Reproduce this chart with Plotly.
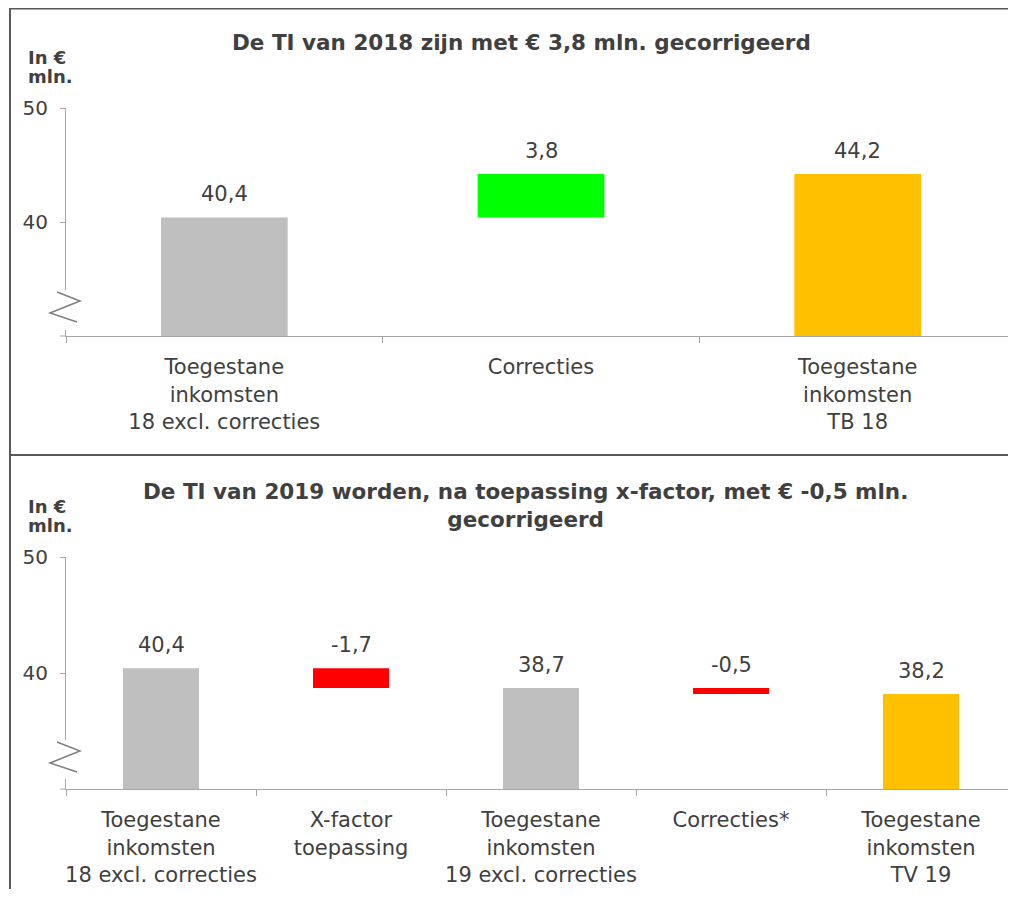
import plotly.graph_objects as go

# page is rendered with an 8px body margin; the figure is sized to fit the window
OFF = 8
W, H = 1016 - OFF, 897 - 2 * OFF

# ---------------- data ----------------
top_title = "De TI van 2018 zijn met € 3,8 mln. gecorrigeerd"
top_categories = ["Toegestane<br>inkomsten<br>18 excl. correcties",
                  "Correcties",
                  "Toegestane<br>inkomsten<br>TB 18"]
top_values = [40.4, 3.8, 44.2]
top_kinds = ["total", "delta", "total"]
top_colors = ["#bfbfbf", "#00ff00", "#ffc000"]

bottom_title = "De TI van 2019 worden, na toepassing x-factor, met € -0,5 mln.<br>gecorrigeerd"
bottom_categories = ["Toegestane<br>inkomsten<br>18 excl. correcties",
                     "X-factor<br>toepassing",
                     "Toegestane<br>inkomsten<br>19 excl. correcties",
                     "Correcties*",
                     "Toegestane<br>inkomsten<br>TV 19"]
bottom_values = [40.4, -1.7, 38.7, -0.5, 38.2]
bottom_kinds = ["total", "delta", "total", "delta", "total"]
bottom_colors = ["#bfbfbf", "#ff0000", "#bfbfbf", "#ff0000", "#ffc000"]

y_range = [30, 50]
y_ticks = [40, 50]
unit_label = ["In €", "mln."]

# ---------------- helpers ----------------
FONT = "Verdana, DejaVu Sans, sans-serif"
TXT = "#404040"
AXC = "#a6a6a6"


def px(x):
    return (x - OFF) / W


def py(y):
    return 1 - (y - OFF) / H


def waterfall(values, kinds):
    bases, heights, tops = [], [], []
    running = 0.0
    for v, k in zip(values, kinds):
        if k == "total":
            b = 0.0
            running = v
        else:
            b = running
            running = running + v
        bases.append(b)
        heights.append(v)
        tops.append(max(b, b + v))
    return bases, heights, tops


def fmt(v):
    return f"{v:.1f}".replace(".", ",")


fig = go.Figure()
annotations = []

panels = [
    (top_categories, top_values, top_kinds, top_colors, "x", "y"),
    (bottom_categories, bottom_values, bottom_kinds, bottom_colors, "x2", "y2"),
]
for cats, vals, kinds, cols, xa, ya in panels:
    bases, heights, tops = waterfall(vals, kinds)
    fig.add_trace(go.Bar(x=cats, y=heights, base=bases, marker=dict(color=cols, line=dict(width=0)),
                         width=0.4, xaxis=xa, yaxis=ya, showlegend=False, hoverinfo="skip"))
    for c, v, t in zip(cats, vals, tops):
        annotations.append(dict(x=c, y=t, xref=xa, yref=ya, text=fmt(v), showarrow=False,
                                yanchor="bottom", yshift=9, font=dict(family=FONT, size=21, color=TXT)))

axis_common = dict(showgrid=False, zeroline=False, showline=True, linecolor=AXC, linewidth=1,
                   ticks="outside", tickcolor=AXC, tickwidth=1, automargin=False)

xfont = dict(family=FONT, size=21, color=TXT)
yfont = dict(family=FONT, size=20, color=TXT)
fig.update_layout(
    width=W, height=H,
    margin=dict(l=0, r=0, t=0, b=0, pad=0),
    paper_bgcolor="white", plot_bgcolor="white",
    showlegend=False,
    xaxis=dict(domain=[px(66), 1.0], anchor="y", type="category", tickson="boundaries", ticklen=6,
               tickangle=0, tickfont=xfont, ticklabelstandoff=12, **axis_common),
    yaxis=dict(domain=[py(336), py(108)], anchor="x", range=y_range, tickvals=y_ticks, ticklen=5,
               tickfont=yfont, ticklabelstandoff=8, **axis_common),
    xaxis2=dict(domain=[px(66), 1.0], anchor="y2", type="category", tickson="boundaries", ticklen=6,
                tickangle=0, tickfont=xfont, ticklabelstandoff=12, **axis_common),
    yaxis2=dict(domain=[py(789), py(557)], anchor="x2", range=y_range, tickvals=y_ticks, ticklen=5,
                tickfont=yfont, ticklabelstandoff=8, **axis_common),
)

# titles
annotations.append(dict(x=px(521), y=py(43), xref="paper", yref="paper", text=f"<b>{top_title}</b>",
                        showarrow=False, xanchor="center", yanchor="middle",
                        font=dict(family=FONT, size=21.5, color=TXT)))
annotations.append(dict(x=px(525), y=py(505), xref="paper", yref="paper", text=f"<b>{bottom_title}</b>",
                        showarrow=False, xanchor="center", yanchor="middle",
                        font=dict(family=FONT, size=21.5, color=TXT)))
# unit labels
for y0 in (57, 506):
    for i, t in enumerate(unit_label):
        annotations.append(dict(x=px(26), y=py(y0 + i * 19), xref="paper", yref="paper", text=f"<b>{t}</b>",
                                showarrow=False, xanchor="left", yanchor="middle",
                                font=dict(family=FONT, size=18, color=TXT)))
fig.update_layout(annotations=annotations)

shapes = []
BORDER = "#595959"
shapes.append(dict(type="line", xref="paper", yref="paper", x0=px(10), x1=1, y0=py(8.5), y1=py(8.5),
                   line=dict(color=BORDER, width=2)))
shapes.append(dict(type="line", xref="paper", yref="paper", x0=px(10), x1=px(10), y0=py(8), y1=0,
                   line=dict(color=BORDER, width=2)))
shapes.append(dict(type="line", xref="paper", yref="paper", x0=px(10), x1=1, y0=py(455), y1=py(455),
                   line=dict(color=BORDER, width=2)))
# small extension of x axis line to the left of the y axis
for yb in (336, 789):
    shapes.append(dict(type="line", xref="paper", yref="paper", x0=px(60), x1=px(66), y0=py(yb), y1=py(yb),
                       line=dict(color=AXC, width=1)))

# axis-break zigzags
for (yt, yb) in ((290, 330), (740, 779)):
    shapes.append(dict(type="rect", xref="paper", yref="paper", x0=px(62), x1=px(70), y0=py(yb), y1=py(yt),
                       fillcolor="white", line=dict(width=0), layer="above"))
    pts = [(57, yt + 2), (80, yt + 11), (50, yt + 23), (77, yt + 32)]
    path = "M " + " L ".join(f"{px(a)},{py(b)}" for a, b in pts)
    shapes.append(dict(type="path", xref="paper", yref="paper", path=path,
                       line=dict(color="#7f7f7f", width=1.5), layer="above"))
fig.update_layout(shapes=shapes)

fig.write_html("out.html")
